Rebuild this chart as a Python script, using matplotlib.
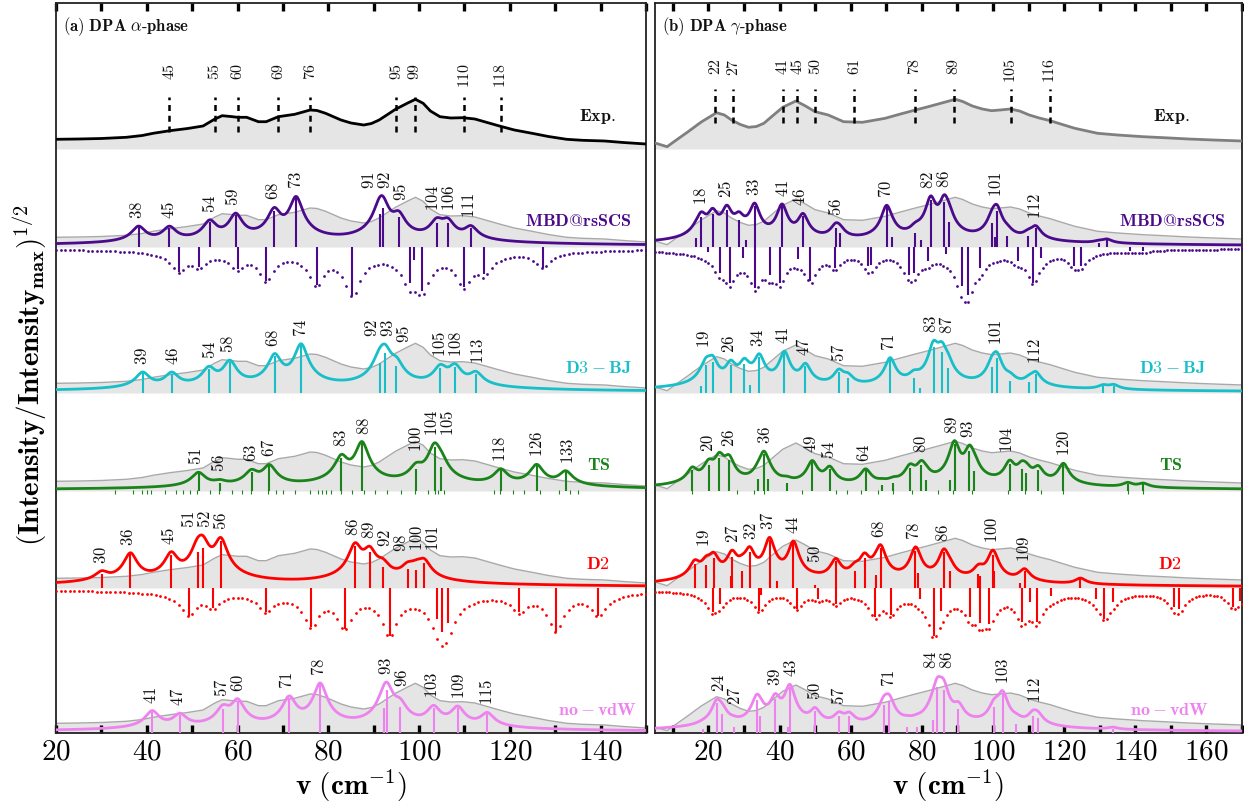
import numpy as np
import matplotlib
matplotlib.use("Agg")
import matplotlib.pyplot as plt
from matplotlib.ticker import FixedLocator, FuncFormatter

plt.rcParams['mathtext.fontset'] = 'cm'
plt.rcParams['font.family'] = ['DejaVu Serif']

# ---------------- experimental spectra (sqrt intensity, px units) ----------------
EXP_A_V = [20, 25, 30, 35.5, 39, 41.4, 45.1, 49, 52.4, 54.9, 56.6, 58.5, 60, 62, 64.6, 66.3, 69, 72.6,
           76, 77.5, 79.4, 82.8, 85, 87.8, 89.5, 91.2, 94.8, 97.5, 99.2, 100.9, 102.5, 104.6, 107,
           109.6, 112.3, 115, 117.7, 121, 124.9, 128.5, 132.5, 136, 140.9, 145, 150]
EXP_A_H = [9.7, 10, 10.5, 11.7, 13.5, 15.7, 18.3, 20.5, 23, 29.7, 33.3, 32.5, 31.7, 31.7, 27.3, 27.3,
           32.3, 34.7, 39, 38.5, 35.7, 29, 26, 24, 25.5, 29, 39.7, 46, 49.7, 45.7, 38, 32.3, 31,
           31.3, 30, 26.5, 23, 19, 15.7, 12.5, 9.7, 8.7, 8, 6.5, 5]
EXP_A_MARKS = [45, 55, 60, 69, 76, 95, 99, 110, 118]

EXP_B_V = [5, 8.4, 11, 14.3, 18, 22.3, 24.5, 26.5, 29, 31.3, 33.5, 35.6, 38, 40.9, 44.6, 47.3, 50,
           53.7, 58, 63.3, 69.7, 74, 78.2, 81.5, 84.6, 89.4, 91.5, 94.2, 97, 99.6, 102, 104.9, 107.5,
           110.2, 113, 116.1, 119.5, 123, 129.4, 135, 142.2, 148, 155, 162, 170]
EXP_B_H = [6, 2.3, 9, 17.3, 27, 36.3, 34, 29, 24.5, 21.7, 22.5, 25.7, 33, 41.7, 48, 43, 37.3,
           34, 27.3, 26.7, 30.7, 35, 39, 42, 45, 49.7, 47.5, 43, 40, 38.3, 39, 40, 38,
           34, 31, 28.3, 24.5, 20.7, 15.7, 14, 12.3, 11.3, 10, 9, 8]
EXP_B_MARKS = [22, 27, 41, 45, 50, 61, 78, 89, 105, 116]

# ---------------- panel (a): alpha phase ----------------
MBD_A_V = [38.2, 45, 53.9, 59.6, 68.1, 72.9, 91.3, 92.0, 95.5, 103.9, 106.3, 111.4]
MBD_A_H = [20, 19.3, 25, 32, 36, 49, 33, 39, 30, 24.5, 24.5, 19]
MBD_A_LAB = [38, 45, 54, 59, 68, 73, 91, 92, 95, 104, 106, 111]
MBD_A_NV = [47.1, 51.5, 60, 66.3, 77.4, 85.3, 97.9, 98.8, 100.6, 109.9, 114.2, 127.2]
MBD_A_NH = [25, 20, 21.7, 34, 38.3, 49.3, 36, 13, 44.3, 40, 26.7, 20.7]

D3_A_V = [39.1, 45.5, 53.7, 58.3, 68.2, 74.0, 91.3, 92.5, 95.0, 104.7, 107.9, 112.5]
D3_A_H = [20, 19.3, 24, 31, 37, 48, 30, 40, 27, 25, 26, 19]
D3_A_LAB = [39, 46, 54, 58, 68, 74, 92, 93, 95, 105, 108, 113]

TS_A_V = [51.4, 56.1, 63.1, 67.0, 82.9, 87.4, 99.4, 103.4, 104.9, 118.0, 125.9, 132.3]
TS_A_H = [18, 8, 19, 25, 33, 48, 22, 44, 24, 20.7, 25.7, 19]
TS_A_LAB = [51, 56, 63, 67, 83, 88, 100, 104, 105, 118, 126, 133]
TS_A_WEAK = [33, 37, 39, 40, 41, 44, 46.5, 48, 49.5, 51, 54, 56, 58.7, 61, 63, 66.7, 68.4, 70, 72.6,
             76, 77.7, 78.5, 79.4, 80.6, 82.7, 85.3, 87.8, 90.3, 93, 96, 99, 102, 103.4, 104.2,
             105.5, 116.5, 117.8, 120.7, 123.2, 126.6, 130.8, 133.3, 135]

D2_A_V = [30.1, 36.4, 45.4, 51.2, 52.4, 56.3, 85.9, 89.1, 92.0, 97.5, 99.4, 101.1]
D2_A_H = [14.3, 34, 33, 36, 40, 47, 42, 36, 21, 19, 18, 25]
D2_A_LAB = [30, 36, 45, 51, 52, 56, 86, 89, 92, 98, 100, 101]
D2_A_NV = [49.2, 54.5, 66.3, 76.2, 83.6, 93.5, 104.0, 105.1, 106.4, 122.1, 130.1, 139.5]
D2_A_NH = [27.7, 20, 23.7, 39.3, 41, 47.7, 31, 44, 35, 24.3, 43.7, 27.7]

NV_A_V = [41.2, 47.3, 56.8, 60.0, 71.4, 78.2, 92.3, 92.9, 95.8, 103.2, 108.5, 115.0]
NV_A_H = [21.5, 18, 24, 32, 35, 49, 25, 43, 26, 25, 25, 19]
NV_A_LAB = [41, 47, 57, 60, 71, 78, 93, 96, 103, 109, 115]

# ---------------- panel (b): gamma phase ----------------
MBD_B_V = [16.4, 18.0, 21.2, 25.2, 28.6, 30.6, 33.0, 40.7, 46.6, 55.8, 56.9, 70.1, 71.5, 78.2, 79.7,
           82.5, 86.3, 87.6, 99.8, 100.6, 101.1, 104.0, 109.9, 112.0, 129.7, 132.0]
MBD_B_H = [9, 30, 33, 37, 27, 7.3, 41, 41, 31, 19, 14, 40, 10, 14, 7.3,
           47, 45, 25, 24, 10, 36, 10.7, 10.7, 19, 4, 6.7]
MBD_B_LAB = [18, 25, 33, 41, 46, 56, 70, 82, 86, 101, 112]
MBD_B_NV = [19.9, 23.3, 26.0, 29.7, 33.2, 37.2, 40.0, 45.2, 48.7, 55.5, 64.9, 65.8, 76.3, 77.9, 81.6,
            86.7, 91.2, 92.9, 96.3, 107.0, 111.2, 113.6, 122.8, 124.8, 138.5, 142.2]
MBD_B_NH = [5.3, 26, 36, 11, 41, 27.7, 36, 12, 34.3, 21, 19.3, 17.7, 27.7, 26, 14.3,
            6.7, 39.3, 48.3, 21, 14.3, 36, 11, 18.7, 18.7, 4.3, 4.3]

D3_B_V = [18.0, 19.4, 21.2, 26.3, 30.1, 31.7, 34.3, 41.4, 47.3, 56.7, 59.2, 71.1, 77.8, 79.5, 83.3,
          85.6, 87.3, 99.8, 101.1, 104.8, 110.2, 112.0, 131.0, 133.9]
D3_B_H = [7.3, 28, 31, 28, 29, 8.3, 36, 40, 27, 21, 15, 34, 15, 5, 46,
          41, 25, 26, 35, 12.3, 10.7, 19, 6.7, 7.3]
D3_B_LAB = [19, 26, 34, 41, 47, 57, 71, 83, 87, 101, 112]

TS_B_V = [15.5, 20.1, 23.1, 25.8, 34.0, 35.6, 36.9, 42.0, 49.2, 54.1, 64.2, 68.8, 72.0, 76.7, 79.9,
          81.2, 88.0, 89.2, 93.4, 94.8, 104.7, 108.1, 109.4, 112.7, 119.8, 137.9, 142.2]
TS_B_H = [21, 26, 33, 31, 12.3, 37, 11.7, 8, 29, 22.5, 20.7, 5.7, 8, 23, 26,
          10.7, 10.7, 47, 40, 20, 27.5, 22.5, 18, 21.5, 26.7, 7.3, 6.7]
TS_B_LAB = [20, 26, 36, 49, 54, 64, 80, 89, 93, 104, 120]
TS_B_WEAK = [15.3, 28.1, 32.9, 35.6, 46.2, 55.8, 59, 62.8, 67.6, 71.8, 77.1, 84.6, 88.9, 94.2,
             104.3, 109.1, 113.4, 119.8, 137.9, 142.2]

D2_B_V = [16.2, 19.4, 21.5, 26.3, 26.7, 29.5, 31.6, 37.2, 39.4, 43.9, 50.0, 55.8, 61.2, 63.9, 67.0,
          68.4, 78.2, 78.8, 86.2, 87.8, 95.8, 96.3, 99.9, 100.4, 107.5, 108.9, 124.6]
D2_B_H = [24, 23, 30, 11.7, 31, 16.7, 36, 48, 6.7, 45, 3, 27, 16.7, 30, 13.3,
          40, 37, 15, 36, 16.7, 14.3, 11.7, 33, 16.7, 5, 17.3, 9]
D2_B_LAB = [19, 27, 32, 37, 44, 50, 68, 78, 86, 100, 109]
D2_B_NV = [21.2, 23.3, 34.2, 34.8, 44.9, 50.8, 55.8, 66.9, 71.3, 79.4, 83.4, 85.5, 93.5, 96.3, 98.8,
           108.2, 110.3, 112.3, 116.3, 128.9, 131.3, 133.6, 151.0, 152.3, 167.5, 169.4]
D2_B_NH = [24.3, 16, 22.7, 7, 21, 11, 16, 28.7, 27, 11, 47.7, 22.7, 29.3, 35, 36,
           34.3, 14.3, 34.3, 8.3, 11, 31, 14.3, 19.3, 21, 19.3, 12.7]

NV_B_V = [18.4, 22.4, 23.9, 27.1, 33.6, 34.4, 38.8, 42.4, 42.9, 50.0, 56.7, 59.6, 69.3, 70.8, 75.9,
          78.6, 83.1, 84.4, 86.1, 90.3, 100.4, 102.7, 106.6, 111.3, 112.6, 133.6]
NV_B_H = [3.8, 30, 19, 6.3, 33, 17, 34, 6.3, 46, 22, 17, 16.8, 28, 32, 6.3,
          6.3, 13.3, 46, 43, 24, 26, 39, 8.7, 17.5, 15.5, 4.5]
NV_B_LAB = [24, 27, 39, 43, 50, 57, 71, 84, 86, 103, 112]

# ---------------- styling ----------------
PURPLE = '#4b0a8c'
CYAN = '#17bfc8'
GREEN = '#1a841a'
RED = '#ff0000'
VIOLET = '#ee82ee'
FILL = '#e5e5e5'
GRAYLINE = '#a9a9a9'
BASES = [149, 247, 393, 491, 588, 733]   # pixel rows of section baselines
GAMMA = 1.5

W, H = 1244, 808
fig = plt.figure(figsize=(W / 100, H / 100), dpi=100)
axA = fig.add_axes([56 / W, (H - 733) / H, (646 - 56) / W, 730 / H])
axB = fig.add_axes([655 / W, (H - 733) / H, (1242 - 655) / W, 730 / H])


def broaden(x, pos, hts):
    p = np.asarray(pos, float)[:, None]
    h = np.asarray(hts, float)[:, None]
    return np.sqrt(np.sum(h ** 2 / (1 + ((x[None, :] - p) / GAMMA) ** 2), axis=0))


def spread(px, gap, iters=300):
    px = list(px)
    for _ in range(iters):
        moved = False
        for i in range(len(px) - 1):
            g = px[i + 1] - px[i]
            if g < gap - 1e-6:
                d = (gap - g) / 2
                px[i] -= d
                px[i + 1] += d
                moved = True
        if not moved:
            break
    return px


def draw_panel(ax, xlim, exp_v, exp_h, exp_color, marks, mark_span, mark_top,
               title, sections, name_x):
    ax.set_xlim(*xlim)
    ax.set_ylim(-733, -3)
    x = np.arange(xlim[0], xlim[1] + 0.001, 0.1)
    xdot = np.arange(np.ceil(xlim[0]), xlim[1] + 0.001, 1.0)
    ev = np.asarray(exp_v, float)
    eh = np.asarray(exp_h, float)
    ppu = ax.transData.transform((1, 0))[0] - ax.transData.transform((0, 0))[0]

    # experimental panel
    b0 = BASES[0]
    ax.fill_between(ev, -b0, -b0 + eh, color=FILL, lw=0, zorder=1)
    ax.plot(ev, -b0 + eh, color=exp_color, lw=2.0, zorder=3)
    ax.vlines(marks, -b0 + mark_span[0], -b0 + mark_span[1], colors='k', lw=1.8,
              linestyles=(0, (2.4, 1.9)), zorder=4)
    mpx = spread([m * ppu for m in marks], 15.0)
    for m, p in zip(marks, mpx):
        ax.text(p / ppu, -mark_top, r'$%d$' % m, rotation=90, ha='center', va='top',
                fontsize=11.5, color='#111111', zorder=5)
    ax.text(name_x[0], -117, r'$\mathbf{Exp.}$', ha='right', va='center',
            fontsize=13, color='#111111', zorder=5)

    for k, sec in enumerate(sections):
        b = BASES[k + 1]
        ax.fill_between(ev, -b, -b + eh, color=FILL, lw=0, zorder=1)
        ax.plot(ev, -b + eh, color=GRAYLINE, lw=1.0, zorder=2)
        col = sec['color']
        y = broaden(x, sec['v'], sec['h'])
        ax.vlines(sec['v'], -b, -b + np.asarray(sec['h']), colors=col, lw=1.5, zorder=3)
        ax.plot(x, -b + y, color=col, lw=2.0, zorder=4)
        if 'nv' in sec:
            yn = broaden(xdot, sec['nv'], sec['nh'])
            ax.vlines(sec['nv'], -b, -b - np.asarray(sec['nh']), colors=col, lw=1.5, zorder=3)
            ax.plot(xdot, -b - yn, ls='none', marker='o', ms=2.0, mew=0, color=col, zorder=4)
        if 'weak' in sec:
            ax.vlines(sec['weak'], -b - 3, -b + 1, colors=col, lw=0.8, zorder=3)
        labs = sec['lab']
        lpx = spread([l * ppu for l in labs], 16.0)
        for l, p in zip(labs, lpx):
            win = (x >= l - 1.6) & (x <= l + 1.6)
            top = y[win].max() if win.any() else 0
            ax.text(p / ppu, -b + top + 7, r'$%d$' % l, rotation=90, ha='center', va='bottom',
                    fontsize=12, color='#111111', zorder=5)
        ax.text(name_x[k + 1], -sec['name_y'], sec['name'], ha='right', va='center',
                fontsize=13, color=col, zorder=5)

    ax.text(0.012, 0.967, title, transform=ax.transAxes,
            fontsize=12, ha='left', va='center', color='#111111')
    ax.set_yticks([])
    for s in ax.spines.values():
        s.set_linewidth(1.3)
        s.set_color('#222222')
    ax.tick_params(axis='x', which='both', direction='in', length=6, width=2.4,
                   top=True, bottom=True, labelsize=21, pad=3, color='black')
    ax.set_xlabel(r'$\mathbf{v\ (cm^{-1})}$', fontsize=21, labelpad=2)


fmt = FuncFormatter(lambda v, p: r'$%d$' % v)

secA = [
    dict(name=r'$\mathbf{MBD@rsSCS}$', color=PURPLE, v=MBD_A_V, h=MBD_A_H, lab=MBD_A_LAB,
         nv=MBD_A_NV, nh=MBD_A_NH, name_y=221),
    dict(name=r'$\mathbf{D3-BJ}$', color=CYAN, v=D3_A_V, h=D3_A_H, lab=D3_A_LAB, name_y=368),
    dict(name=r'$\mathbf{TS}$', color=GREEN, v=TS_A_V, h=TS_A_H, lab=TS_A_LAB, weak=TS_A_WEAK,
         name_y=465),
    dict(name=r'$\mathbf{D2}$', color=RED, v=D2_A_V, h=D2_A_H, lab=D2_A_LAB,
         nv=D2_A_NV, nh=D2_A_NH, name_y=564),
    dict(name=r'$\mathbf{no-vdW}$', color=VIOLET, v=NV_A_V, h=NV_A_H, lab=NV_A_LAB, name_y=710),
]
secB = [
    dict(name=r'$\mathbf{MBD@rsSCS}$', color=PURPLE, v=MBD_B_V, h=MBD_B_H, lab=MBD_B_LAB,
         nv=MBD_B_NV, nh=MBD_B_NH, name_y=221),
    dict(name=r'$\mathbf{D3-BJ}$', color=CYAN, v=D3_B_V, h=D3_B_H, lab=D3_B_LAB, name_y=368),
    dict(name=r'$\mathbf{TS}$', color=GREEN, v=TS_B_V, h=TS_B_H, lab=TS_B_LAB, weak=TS_B_WEAK,
         name_y=465),
    dict(name=r'$\mathbf{D2}$', color=RED, v=D2_B_V, h=D2_B_H, lab=D2_B_LAB,
         nv=D2_B_NV, nh=D2_B_NH, name_y=564),
    dict(name=r'$\mathbf{no-vdW}$', color=VIOLET, v=NV_B_V, h=NV_B_H, lab=NV_B_LAB, name_y=710),
]

draw_panel(axA, (20, 150), EXP_A_V, EXP_A_H, 'black', EXP_A_MARKS, (17, 52), 63,
           r'$\mathbf{(a)\ DPA}\ \alpha\text{-}\mathbf{phase}$', secA,
           [143.4, 146.9, 146.9, 142.1, 142.1, 148.0])
draw_panel(axB, (5, 170), EXP_B_V, EXP_B_H, '#7f7f7f', EXP_B_MARKS, (26, 60), 58,
           r'$\mathbf{(b)\ DPA}\ \gamma\text{-}\mathbf{phase}$', secB,
           [155.4, 165.5, 159.6, 153.2, 153.2, 160.7])

axA.xaxis.set_major_locator(FixedLocator(list(range(20, 141, 20))))
axA.xaxis.set_minor_locator(FixedLocator(list(range(30, 151, 20))))
axB.xaxis.set_major_locator(FixedLocator(list(range(20, 161, 20))))
axB.xaxis.set_minor_locator(FixedLocator(list(range(10, 171, 20))))
for ax in (axA, axB):
    ax.xaxis.set_major_formatter(fmt)

fig.text(30 / W, 1 - 375 / H, r'$\mathbf{(Intensity/Intensity_{max})^{1/2}}$', rotation=90,
         ha='center', va='center', fontsize=21)

fig.savefig('out.png', dpi=100)
